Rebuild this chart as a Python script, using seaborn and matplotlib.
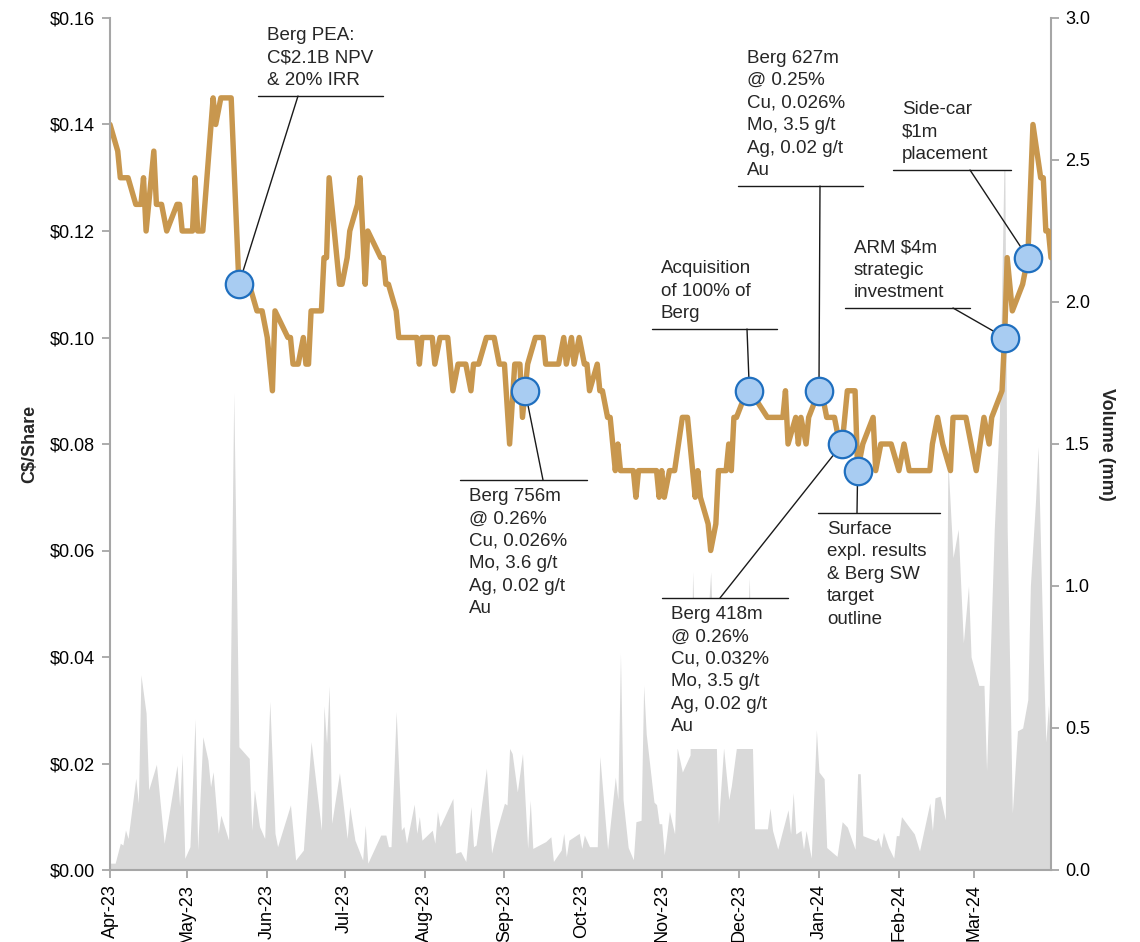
import matplotlib
matplotlib.use("Agg")
import seaborn as sns
import pandas as pd
import matplotlib.pyplot as plt
import matplotlib.dates as mdates
from matplotlib.patches import Rectangle
from matplotlib.ticker import FuncFormatter, MultipleLocator

sns.set_theme(style="white")
plt.rcParams["font.family"] = ["Liberation Sans", "DejaVu Sans"]

# share price (C$)
price_dates = [
    "2023-04-01", "2023-04-04", "2023-04-05", "2023-04-08", "2023-04-11", "2023-04-13", "2023-04-14",
    "2023-04-15", "2023-04-18", "2023-04-19", "2023-04-21", "2023-04-23", "2023-04-27", "2023-04-28",
    "2023-04-29", "2023-05-03", "2023-05-04", "2023-05-05", "2023-05-07", "2023-05-11", "2023-05-12",
    "2023-05-14", "2023-05-18", "2023-05-21", "2023-05-25", "2023-05-28", "2023-05-30", "2023-06-01",
    "2023-06-03", "2023-06-04", "2023-06-09", "2023-06-10", "2023-06-11", "2023-06-13", "2023-06-15",
    "2023-06-16", "2023-06-17", "2023-06-18", "2023-06-22", "2023-06-23", "2023-06-24", "2023-06-25",
    "2023-06-29", "2023-06-30", "2023-07-02", "2023-07-03", "2023-07-06", "2023-07-07", "2023-07-09",
    "2023-07-10", "2023-07-15", "2023-07-16", "2023-07-17", "2023-07-18", "2023-07-21", "2023-07-22",
    "2023-07-29", "2023-07-30", "2023-07-31", "2023-08-04", "2023-08-05", "2023-08-07", "2023-08-10",
    "2023-08-12", "2023-08-14", "2023-08-17", "2023-08-19", "2023-08-20", "2023-08-22", "2023-08-25",
    "2023-08-28", "2023-08-30", "2023-09-01", "2023-09-03", "2023-09-05", "2023-09-07", "2023-09-08",
    "2023-09-10", "2023-09-13", "2023-09-16", "2023-09-17", "2023-09-22", "2023-09-24", "2023-09-25",
    "2023-09-27", "2023-09-28", "2023-09-30", "2023-10-02", "2023-10-03", "2023-10-04", "2023-10-07",
    "2023-10-08", "2023-10-09", "2023-10-11", "2023-10-12", "2023-10-13", "2023-10-14", "2023-10-15",
    "2023-10-16", "2023-10-21", "2023-10-22", "2023-10-23", "2023-10-30", "2023-10-31", "2023-11-01",
    "2023-11-02", "2023-11-04", "2023-11-06", "2023-11-09", "2023-11-11", "2023-11-14", "2023-11-15",
    "2023-11-16", "2023-11-19", "2023-11-20", "2023-11-22", "2023-11-23", "2023-11-26", "2023-11-27",
    "2023-11-28", "2023-11-29", "2023-11-30", "2023-12-02", "2023-12-05", "2023-12-08", "2023-12-12",
    "2023-12-18", "2023-12-19", "2023-12-20", "2023-12-23", "2023-12-24", "2023-12-25", "2023-12-27",
    "2023-12-28", "2023-12-30", "2024-01-01", "2024-01-03", "2024-01-04", "2024-01-07", "2024-01-09",
    "2024-01-10", "2024-01-12", "2024-01-15", "2024-01-16", "2024-01-18", "2024-01-22", "2024-01-23",
    "2024-01-25", "2024-01-29", "2024-02-01", "2024-02-03", "2024-02-05", "2024-02-13", "2024-02-14",
    "2024-02-16", "2024-02-18", "2024-02-21", "2024-02-22", "2024-02-27", "2024-02-29", "2024-03-02",
    "2024-03-05", "2024-03-07", "2024-03-08", "2024-03-12", "2024-03-13", "2024-03-14", "2024-03-16",
    "2024-03-20", "2024-03-22", "2024-03-24", "2024-03-27", "2024-03-28", "2024-03-29", "2024-03-30",
    "2024-03-31",
]
price_values = [
    0.140, 0.135, 0.130, 0.130, 0.125, 0.125, 0.130,
    0.120, 0.135, 0.125, 0.125, 0.120, 0.125, 0.125,
    0.120, 0.120, 0.130, 0.120, 0.120, 0.145, 0.140,
    0.145, 0.145, 0.110, 0.110, 0.105, 0.105, 0.100,
    0.090, 0.105, 0.100, 0.100, 0.095, 0.095, 0.100,
    0.095, 0.095, 0.105, 0.105, 0.115, 0.115, 0.130,
    0.110, 0.110, 0.115, 0.120, 0.125, 0.130, 0.110,
    0.120, 0.115, 0.115, 0.110, 0.110, 0.105, 0.100,
    0.100, 0.095, 0.100, 0.100, 0.095, 0.100, 0.100,
    0.090, 0.095, 0.095, 0.090, 0.095, 0.095, 0.100,
    0.100, 0.095, 0.095, 0.080, 0.095, 0.095, 0.085,
    0.095, 0.100, 0.100, 0.095, 0.095, 0.100, 0.095,
    0.100, 0.095, 0.100, 0.095, 0.095, 0.090, 0.095,
    0.090, 0.090, 0.085, 0.085, 0.080, 0.075, 0.080,
    0.075, 0.075, 0.070, 0.075, 0.075, 0.070, 0.075,
    0.070, 0.075, 0.075, 0.085, 0.085, 0.070, 0.075,
    0.070, 0.065, 0.060, 0.065, 0.075, 0.075, 0.080,
    0.075, 0.085, 0.085, 0.0875, 0.090, 0.088, 0.085,
    0.085, 0.090, 0.080, 0.085, 0.080, 0.085, 0.080,
    0.085, 0.0875, 0.090, 0.0875, 0.085, 0.085, 0.080,
    0.080, 0.090, 0.090, 0.075, 0.080, 0.085, 0.075,
    0.080, 0.080, 0.075, 0.080, 0.075, 0.075, 0.080,
    0.085, 0.080, 0.075, 0.085, 0.085, 0.080, 0.075,
    0.085, 0.080, 0.085, 0.090, 0.100, 0.115, 0.105,
    0.110, 0.115, 0.140, 0.130, 0.130, 0.120, 0.120,
    0.115,
]

# daily volume (millions of shares)
volume_dates = [
    "2023-04-01", "2023-04-03", "2023-04-05", "2023-04-06", "2023-04-07", "2023-04-08", "2023-04-11",
    "2023-04-12", "2023-04-13", "2023-04-15", "2023-04-16", "2023-04-19", "2023-04-22", "2023-04-27",
    "2023-04-28", "2023-04-29", "2023-04-30", "2023-05-02", "2023-05-04", "2023-05-05", "2023-05-07",
    "2023-05-09", "2023-05-10", "2023-05-11", "2023-05-13", "2023-05-14", "2023-05-17", "2023-05-19",
    "2023-05-21", "2023-05-25", "2023-05-26", "2023-05-27", "2023-05-29", "2023-05-31", "2023-06-02",
    "2023-06-04", "2023-06-05", "2023-06-10", "2023-06-12", "2023-06-15", "2023-06-18", "2023-06-22",
    "2023-06-23", "2023-06-24", "2023-06-25", "2023-06-26", "2023-06-29", "2023-07-02", "2023-07-03",
    "2023-07-05", "2023-07-08", "2023-07-09", "2023-07-10", "2023-07-15", "2023-07-17", "2023-07-18",
    "2023-07-19", "2023-07-21", "2023-07-23", "2023-07-24", "2023-07-25", "2023-07-28", "2023-07-29",
    "2023-07-30", "2023-07-31", "2023-08-04", "2023-08-05", "2023-08-06", "2023-08-07", "2023-08-12",
    "2023-08-13", "2023-08-15", "2023-08-17", "2023-08-19", "2023-08-20", "2023-08-21", "2023-08-25",
    "2023-08-27", "2023-08-29", "2023-09-01", "2023-09-02", "2023-09-03", "2023-09-04", "2023-09-06",
    "2023-09-08", "2023-09-10", "2023-09-11", "2023-09-12", "2023-09-17", "2023-09-19", "2023-09-20",
    "2023-09-23", "2023-09-24", "2023-09-25", "2023-09-26", "2023-09-30", "2023-10-01", "2023-10-02",
    "2023-10-04", "2023-10-07", "2023-10-08", "2023-10-11", "2023-10-14", "2023-10-15", "2023-10-16",
    "2023-10-17", "2023-10-19", "2023-10-21", "2023-10-22", "2023-10-24", "2023-10-25", "2023-10-26",
    "2023-10-29", "2023-10-30", "2023-10-31", "2023-11-01", "2023-11-02", "2023-11-04", "2023-11-06",
    "2023-11-07", "2023-11-09", "2023-11-12", "2023-11-13", "2023-11-15", "2023-11-17", "2023-11-20",
    "2023-11-22", "2023-11-23", "2023-11-25", "2023-11-27", "2023-11-28", "2023-12-01", "2023-12-03",
    "2023-12-05", "2023-12-06", "2023-12-07", "2023-12-12", "2023-12-13", "2023-12-14", "2023-12-16",
    "2023-12-20", "2023-12-21", "2023-12-22", "2023-12-23", "2023-12-25", "2023-12-26", "2023-12-27",
    "2023-12-29", "2023-12-31", "2024-01-01", "2024-01-03", "2024-01-04", "2024-01-08", "2024-01-10",
    "2024-01-12", "2024-01-15", "2024-01-16", "2024-01-17", "2024-01-18", "2024-01-23", "2024-01-24",
    "2024-01-25", "2024-01-26", "2024-01-28", "2024-01-30", "2024-01-31", "2024-02-01", "2024-02-02",
    "2024-02-05", "2024-02-07", "2024-02-09", "2024-02-13", "2024-02-14", "2024-02-15", "2024-02-17",
    "2024-02-19", "2024-02-20", "2024-02-22", "2024-02-24", "2024-02-26", "2024-02-28", "2024-02-29",
    "2024-03-03", "2024-03-05", "2024-03-06", "2024-03-09", "2024-03-11", "2024-03-13", "2024-03-14",
    "2024-03-16", "2024-03-18", "2024-03-20", "2024-03-22", "2024-03-23", "2024-03-25", "2024-03-26",
    "2024-03-28", "2024-03-29", "2024-03-30", "2024-03-31",
]
volume_values = [
    0.024, 0.024, 0.094, 0.088, 0.141, 0.111, 0.323,
    0.235, 0.687, 0.552, 0.282, 0.372, 0.094, 0.369,
    0.223, 0.411, 0.041, 0.082, 0.531, 0.070, 0.469,
    0.387, 0.293, 0.346, 0.129, 0.193, 0.105, 1.680,
    0.434, 0.393, 0.140, 0.282, 0.153, 0.111, 0.593,
    0.129, 0.082, 0.229, 0.035, 0.070, 0.452, 0.140,
    0.578, 0.446, 0.648, 0.164, 0.342, 0.111, 0.223,
    0.105, 0.035, 0.158, 0.024, 0.123, 0.123, 0.082,
    0.082, 0.558, 0.140, 0.153, 0.094, 0.232, 0.129,
    0.188, 0.105, 0.140, 0.094, 0.206, 0.153, 0.252,
    0.059, 0.065, 0.030, 0.223, 0.082, 0.088, 0.358,
    0.059, 0.140, 0.235, 0.229, 0.428, 0.410, 0.275,
    0.410, 0.076, 0.246, 0.076, 0.100, 0.117, 0.030,
    0.070, 0.129, 0.047, 0.105, 0.129, 0.076, 0.123,
    0.082, 0.082, 0.400, 0.073, 0.327, 0.248, 0.763,
    0.248, 0.079, 0.036, 0.170, 0.175, 0.650, 0.478,
    0.239, 0.230, 0.163, 0.163, 0.054, 0.206, 0.127,
    0.430, 0.345, 0.405, 1.050, 0.500, 0.600, 1.050,
    0.500, 0.163, 0.430, 0.248, 0.296, 0.500, 0.600,
    1.030, 0.500, 0.145, 0.145, 0.218, 0.139, 0.073,
    0.212, 0.127, 0.272, 0.127, 0.139, 0.073, 0.139,
    0.042, 0.493, 0.345, 0.321, 0.079, 0.048, 0.170,
    0.151, 0.073, 0.339, 0.339, 0.121, 0.103, 0.115,
    0.079, 0.133, 0.079, 0.042, 0.121, 0.121, 0.188,
    0.151, 0.127, 0.067, 0.236, 0.139, 0.254, 0.260,
    0.176, 1.440, 1.100, 1.200, 0.800, 1.000, 0.750,
    0.650, 0.650, 0.350, 1.200, 1.600, 2.600, 1.200,
    0.200, 0.490, 0.500, 0.600, 1.000, 1.300, 1.490,
    0.750, 0.450, 0.580, 0.400,
]

# events marked on the price line
event_dates = ["2023-05-21", "2023-09-09", "2023-12-05", "2024-01-01",
               "2024-01-10", "2024-01-16", "2024-03-13", "2024-03-22"]
event_prices = [0.110, 0.090, 0.090, 0.090, 0.080, 0.075, 0.100, 0.115]
event_labels = [
    "Berg PEA:\nC\\$2.1B NPV\n& 20% IRR",
    "Berg 756m\n@ 0.26%\nCu, 0.026%\nMo, 3.6 g/t\nAg, 0.02 g/t\nAu",
    "Acquisition\nof 100% of\nBerg",
    "Berg 627m\n@ 0.25%\nCu, 0.026%\nMo, 3.5 g/t\nAg, 0.02 g/t\nAu",
    "Berg 418m\n@ 0.26%\nCu, 0.032%\nMo, 3.5 g/t\nAg, 0.02 g/t\nAu",
    "Surface\nexpl. results\n& Berg SW\ntarget\noutline",
    "ARM \\$4m\nstrategic\ninvestment",
    "Side-car\n\\$1m\nplacement",
]

price = pd.DataFrame({"date": pd.to_datetime(price_dates), "price": price_values})
volume = pd.DataFrame({"date": pd.to_datetime(volume_dates), "volume": volume_values})
events = pd.DataFrame({"date": pd.to_datetime(event_dates), "price": event_prices})

fig = plt.figure(figsize=(11.4, 9.42), dpi=100)
ax = fig.add_axes([110 / 1140, 72 / 942, 941 / 1140, 852 / 942])
ax2 = ax.twinx()
ax.set_zorder(ax2.get_zorder() + 1)
ax.patch.set_visible(False)

ax2.fill_between(volume["date"], volume["volume"], color="#D9D9D9", lw=0)
sns.lineplot(data=price, x="date", y="price", ax=ax, color="#C8974E", lw=3.9,
             estimator=None, zorder=2)
sns.scatterplot(data=events, x="date", y="price", ax=ax, s=390, color="#A8CCF2",
                edgecolor="#1F6FBF", linewidth=1.6, zorder=6)

ax.set_xlim(pd.Timestamp("2023-04-01"), pd.Timestamp("2024-03-31"))
ax.set_ylim(0, 0.16)
ax2.set_ylim(0, 3.0)

# callout layout in pixels: line y, line x0, line x1, leader x, text above line?
callouts = [
    (96, 258, 383, 298, True),
    (480, 460, 587, 543, False),
    (329, 652, 777, 747, True),
    (186, 738, 863, 820, True),
    (598, 662, 788, 720, False),
    (513, 818, 940, 857, False),
    (308, 845, 970, 953, True),
    (170, 893, 1011, 970, True),
]


def frac(xp, yp):
    return (xp - 110) / 941, (870 - yp) / 852


texts = []
for (ly, x0, x1, lx, above), label, d, p in zip(callouts, event_labels, events["date"], event_prices):
    fx0, fy = frac(x0, ly)
    fx1, _ = frac(x1, ly)
    flx, _ = frac(lx, ly)
    ax.plot([fx0, fx1], [fy, fy], transform=ax.transAxes, color="#1A1A1A", lw=1.0, zorder=4)
    ax.annotate("", xy=(d, p), xycoords="data", xytext=(flx, fy), textcoords="axes fraction",
                arrowprops=dict(arrowstyle="-", color="#1A1A1A", lw=1.0, shrinkA=0, shrinkB=0),
                zorder=4)
    ty = fy + 7 / 852 if above else fy - 8 / 852
    t = ax.text(fx0 + 9 / 941, ty, label, transform=ax.transAxes, fontsize=13.5,
                va="bottom" if above else "top", ha="left", linespacing=1.42, zorder=3.5)
    texts.append((t, fx0, fx1, fy, above))

# white boxes behind the callout texts, as wide as their lines
fig.canvas.draw()
inv = ax.transAxes.inverted()
for t, fx0, fx1, fy, above in texts:
    bb = t.get_window_extent()
    (_, by0), (_, by1) = inv.transform([[bb.x0, bb.y0], [bb.x1, bb.y1]])
    if above:
        y0, y1 = fy, by1 + 4 / 852
    else:
        y0, y1 = by0 - 14 / 852, fy
    ax.add_patch(Rectangle((fx0, y0), fx1 - fx0, y1 - y0, transform=ax.transAxes,
                           facecolor="white", edgecolor="none", zorder=3, clip_on=False))

ax.xaxis.set_major_locator(mdates.MonthLocator())
ax.xaxis.set_major_formatter(mdates.DateFormatter("%b-%y"))
ax.yaxis.set_major_locator(MultipleLocator(0.02))
ax.yaxis.set_major_formatter(FuncFormatter(lambda v, pos: "\\$%.2f" % v))
ax2.yaxis.set_major_locator(MultipleLocator(0.5))
ax2.yaxis.set_major_formatter(FuncFormatter(lambda v, pos: "%.1f" % v))

grey = "#A6A6A6"
for a in (ax, ax2):
    for side in a.spines:
        a.spines[side].set_visible(False)
ax.spines["left"].set_visible(True)
ax.spines["bottom"].set_visible(True)
ax2.spines["right"].set_visible(True)
for sp in (ax.spines["left"], ax.spines["bottom"], ax2.spines["right"]):
    sp.set_color(grey)
    sp.set_linewidth(1.5)

ax.tick_params(axis="x", bottom=True, direction="out", length=6, width=1.3, color=grey,
               labelsize=13, labelcolor="black", pad=4, labelrotation=90)
ax.tick_params(axis="y", left=True, direction="out", length=6, width=1.3, color=grey,
               labelsize=13, labelcolor="black", pad=5)
ax2.tick_params(axis="y", right=True, direction="out", length=6, width=1.3, color=grey,
                labelsize=13, labelcolor="black", pad=4)

ax.set_xlabel("")
ax.set_ylabel("C\\$/Share", fontsize=13, fontweight="bold", labelpad=8)
ax2.set_ylabel("Volume (mm)", fontsize=13, fontweight="bold", rotation=-90, labelpad=18)

fig.savefig("out.png", dpi=100)
